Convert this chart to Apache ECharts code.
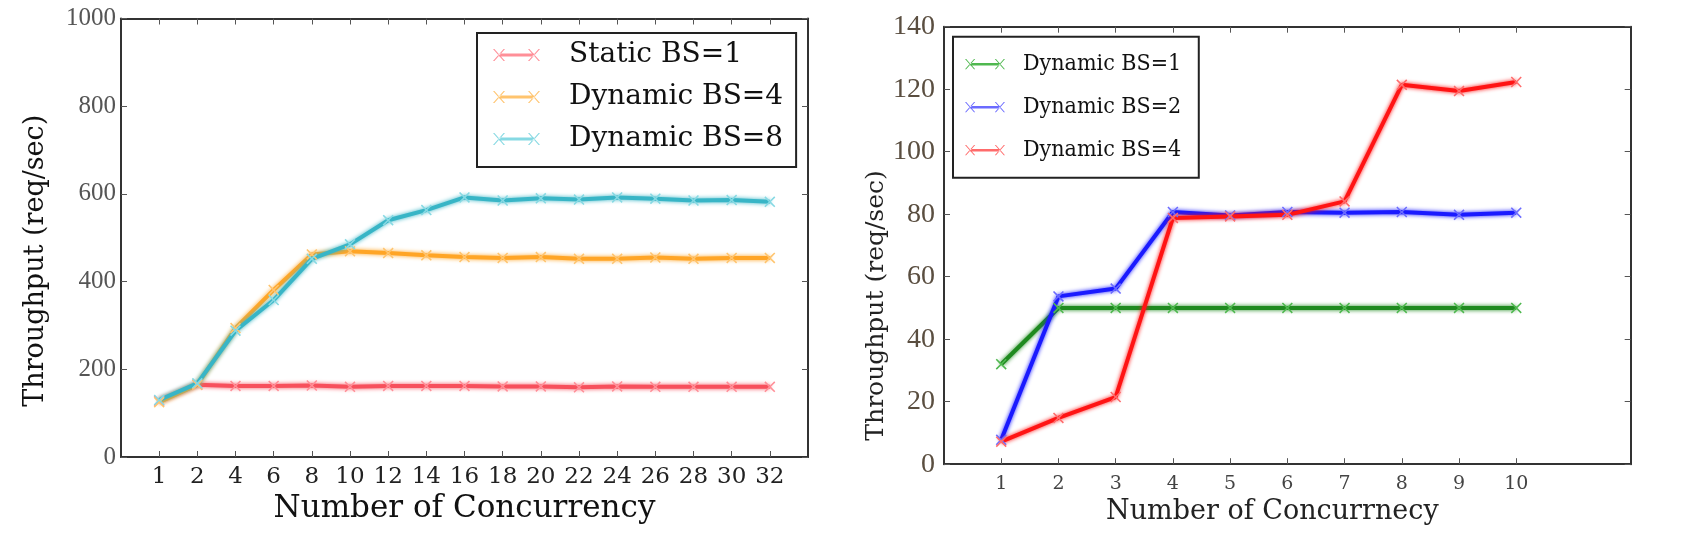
<!DOCTYPE html>
<html>
<head>
<meta charset="utf-8">
<script src="https://cdn.jsdelivr.net/npm/echarts@6/dist/echarts.min.js"></script>
<style>
html,body{margin:0;padding:0;background:#fff;}
#chart{width:1694px;height:546px;}
</style>
</head>
<body>
<div id="chart"></div>
<script>
// ---- Left chart data ----
const leftCategories = ['1','2','4','6','8','10','12','14','16','18','20','22','24','26','28','30','32'];
const staticBS1 = [128,165,162,162,163,160,162,162,162,161,161,159,161,160,160,160,160];
const dynamicBS4 = [125,165,294,381,462,469,465,460,456,454,456,452,452,455,452,454,454];
const dynamicBS8 = [130,168,288,358,452,485,540,563,592,585,590,587,592,589,585,586,582];
const leftYTicks = [0,200,400,600,800,1000];

// ---- Right chart data ----
const rightCategories = [1,2,3,4,5,6,7,8,9,10];
const rDynamicBS1 = [32,50,50,50,50,50,50,50,50,50];
const rDynamicBS2 = [7.8,53.7,56.2,80.7,79.6,80.7,80.5,80.7,79.8,80.5];
const rDynamicBS4 = [7.2,14.8,21.5,78.8,79.3,79.8,84.1,121.4,119.4,122.3];
const rightYTicks = [0,20,40,60,80,100,120,140];

const XMARK = 'path://M1,0L5,4L9,0L10,1L6,5L10,9L9,10L5,6L1,10L0,9L4,5L0,1Z';
const LEGICON = 'path://M0,1L1.4,1L12,13L10.6,13ZM0,13L1.4,13L12,1L10.6,1ZM35,1L36.4,1L47,13L45.6,13ZM35,13L36.4,13L47,1L45.6,1ZM6,5.5L41,5.5L41,8.5L6,8.5Z';

const axisLineStyle = {onZero:false, lineStyle:{color:'#333',width:2}};
const tickStyle = {inside:true,length:6,lineStyle:{color:'#555',width:1}};

function mkSeries(name, xs, ys, color, markColor, xi, yi, width){
  return {
    name:name, type:'line', xAxisIndex:xi, yAxisIndex:yi,
    data: ys.map((v,i)=>[xs[i], v]),
    symbol: XMARK, symbolSize: 11,
    itemStyle:{color:markColor, borderWidth:0},
    lineStyle:{color:color, width:width, shadowColor:color, shadowBlur:4},
    animation:false, z: 3
  };
}

const leftIdx = leftCategories.map((c,i)=>i);

const option = {
  animation:false,
  backgroundColor:'#fff',
  grid:[
    {left:121, top:18.5, width:687, height:438.5, containLabel:false},
    {left:944, top:26.7, width:686.7, height:437.5, containLabel:false}
  ],
  xAxis:[
    {gridIndex:0, type:'value', position:'bottom', min:-1, max:17, interval:1,
     axisLine:axisLineStyle,
     axisTick:Object.assign({customValues:leftIdx}, tickStyle),
     axisLabel:{customValues:leftIdx, formatter:v=>leftCategories[v]||'', margin:9,
       fontFamily:'DejaVu Serif', fontSize:23, color:'#222'},
     splitLine:{show:false},
     name:'Number of Concurrency', nameLocation:'middle', nameGap:35,
     nameTextStyle:{fontFamily:'DejaVu Serif', fontSize:31, color:'#111'}},
    {gridIndex:0, type:'value', position:'top', min:-1, max:17, interval:1,
     axisLine:axisLineStyle,
     axisTick:Object.assign({customValues:leftIdx}, tickStyle),
     axisLabel:{show:false}, splitLine:{show:false}},
    {gridIndex:1, type:'value', position:'bottom', min:0, max:12, interval:1,
     axisLine:axisLineStyle,
     axisTick:Object.assign({customValues:rightCategories}, tickStyle),
     axisLabel:{customValues:rightCategories, margin:10,
       fontFamily:'DejaVu Serif', fontSize:19, color:'#444'},
     splitLine:{show:false},
     name:'Number of Concurrnecy', nameLocation:'middle', nameGap:33,
     nameTextStyle:{fontFamily:'DejaVu Serif', fontSize:27, color:'#222', padding:[0,30,0,0]}},
    {gridIndex:1, type:'value', position:'top', min:0, max:12, interval:1,
     axisLine:axisLineStyle,
     axisTick:Object.assign({customValues:rightCategories}, tickStyle),
     axisLabel:{show:false}, splitLine:{show:false}}
  ],
  yAxis:[
    {gridIndex:0, type:'value', position:'left', min:0, max:1000, interval:200,
     axisLine:axisLineStyle,
     axisTick:Object.assign({customValues:leftYTicks}, tickStyle),
     axisLabel:{customValues:leftYTicks, formatter:v=>String(v), margin:5, fontFamily:'Liberation Serif', fontSize:25, color:'#555'},
     splitLine:{show:false},
     name:'Throughput (req/sec)', nameLocation:'middle', nameGap:72,
     nameTextStyle:{fontFamily:'DejaVu Serif', fontSize:27, color:'#111', padding:[0,46,0,0]}},
    {gridIndex:0, type:'value', position:'right', min:0, max:1000, interval:200,
     axisLine:axisLineStyle,
     axisTick:Object.assign({customValues:leftYTicks}, tickStyle),
     axisLabel:{show:false}, splitLine:{show:false}},
    {gridIndex:1, type:'value', position:'left', min:0, max:140, interval:20,
     axisLine:axisLineStyle,
     axisTick:Object.assign({customValues:rightYTicks}, tickStyle),
     axisLabel:{customValues:rightYTicks, formatter:v=>String(v), margin:9, fontFamily:'Liberation Serif', fontSize:28, color:'#5a4e40'},
     splitLine:{show:false},
     name:'Throughput (req/sec)', nameLocation:'middle', nameGap:54,
     nameTextStyle:{fontFamily:'DejaVu Serif', fontSize:25, color:'#222', padding:[0,120,0,0]}},
    {gridIndex:1, type:'value', position:'right', min:0, max:140, interval:20,
     axisLine:axisLineStyle,
     axisTick:Object.assign({customValues:rightYTicks}, tickStyle),
     axisLabel:{show:false}, splitLine:{show:false}}
  ],
  legend:[
    {left:477, top:33, orient:'vertical', icon:LEGICON, itemWidth:47, itemHeight:14,
     itemGap:14, padding:[8,13,14,16], borderColor:'#222', borderWidth:2,
     data:['Static BS=1','Dynamic BS=4','Dynamic BS=8'],
     textStyle:{fontFamily:'DejaVu Serif', fontSize:28, lineHeight:28, color:'#111', padding:[0,0,0,24]}},
    {left:953, top:36.7, orient:'vertical', icon:LEGICON, itemWidth:40, itemHeight:12,
     itemGap:20, padding:[16,11,16,12], borderColor:'#222', borderWidth:2,
     data:['Dynamic BS=1','Dynamic BS=2','Dynamic BS=4 '],
     textStyle:{fontFamily:'DejaVu Serif Condensed, DejaVu Serif', fontSize:23, lineHeight:22, color:'#111', padding:[0,0,0,13]}}
  ],
  series:[
    mkSeries('Static BS=1', leftIdx, staticBS1, '#f7505c', '#ff8f98', 0, 0, 4),
    mkSeries('Dynamic BS=4', leftIdx, dynamicBS4, '#ffa526', '#ffc46e', 0, 0, 4),
    mkSeries('Dynamic BS=8', leftIdx, dynamicBS8, '#38b5c6', '#86d9e3', 0, 0, 4),
    mkSeries('Dynamic BS=1', rightCategories, rDynamicBS1, '#1f8a1f', '#4fb84f', 2, 2, 4),
    mkSeries('Dynamic BS=2', rightCategories, rDynamicBS2, '#1a1aff', '#6b6bff', 2, 2, 4),
    mkSeries('Dynamic BS=4 ', rightCategories, rDynamicBS4, '#ff1414', '#ff6b6b', 2, 2, 4)
  ]
};
const chart = echarts.init(document.getElementById('chart'), null, {renderer:'canvas'});
chart.setOption(option);
</script>
</body>
</html>
